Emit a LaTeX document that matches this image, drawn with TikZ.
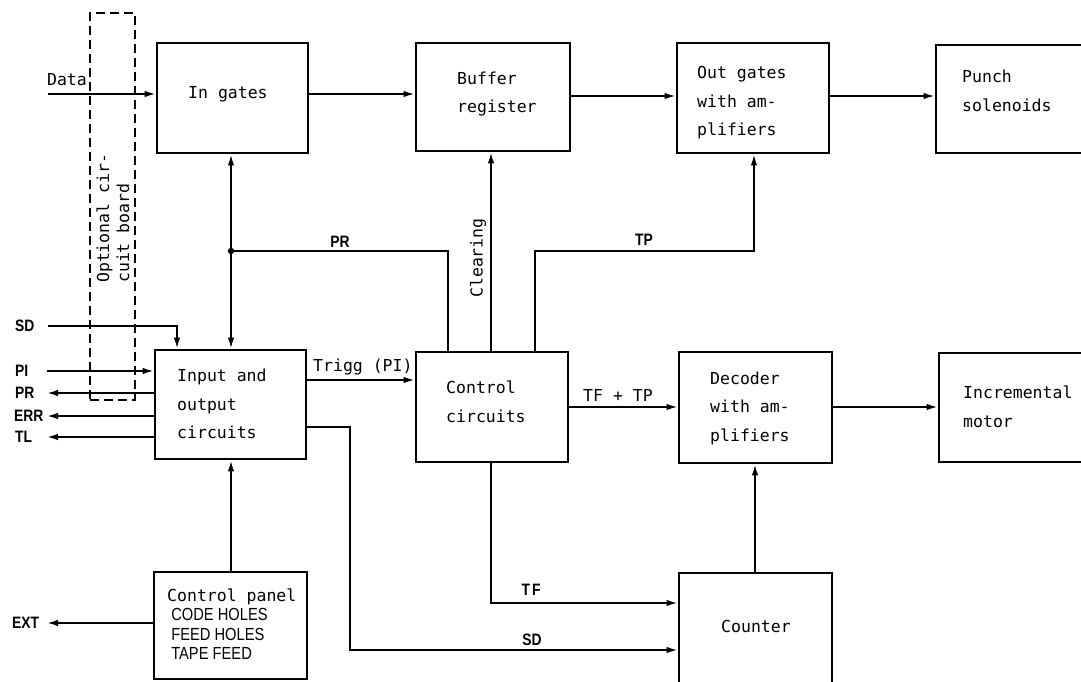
\documentclass[tikz,border=0pt]{standalone}
\usepackage{fontspec}
\setmonofont{DejaVu Sans Mono}
\newfontfamily\capsf[FakeStretch=0.84]{Liberation Sans}
\usetikzlibrary{arrows.meta}

\begin{document}
\begin{tikzpicture}[x=1pt,y=-1pt,
  box/.style={draw, line width=2.8pt, inner sep=0pt},
  board/.style={draw, line width=1.9pt, dash pattern=on 9pt off 5pt, inner sep=0pt},
  wire/.style={line width=1.8pt},
  txt/.style={font=\ttfamily\fontsize{16.5}{28.5}\selectfont, align=left, anchor=west, inner sep=0pt},
  tag/.style={font=\capsf\bfseries\fontsize{16.5}{20}\selectfont, inner sep=0pt},
  mtag/.style={font=\ttfamily\fontsize{16.5}{20}\selectfont, inner sep=0pt},
  >={Latex[length=11pt,width=6.5pt]}]

\useasboundingbox (0,0) rectangle (1081,681);
\fill[white] (0,0) rectangle (1081,681);
\clip (0,0) rectangle (1081,681);

% ---- blocks ----
\node[box, minimum width=151pt, minimum height=110pt] (ingates)  at (232.5,98)   {};
\node[box, minimum width=154pt, minimum height=108pt] (buffer)   at (493,97)     {};
\node[box, minimum width=152pt, minimum height=110pt] (outgates) at (753,98)     {};
\node[box, minimum width=164pt, minimum height=108pt] (punch)    at (1018,99)    {};
\node[box, minimum width=151pt, minimum height=109pt] (inout)    at (230.5,404.5){};
\node[box, minimum width=152pt, minimum height=110pt] (control)  at (492,407)    {};
\node[box, minimum width=153pt, minimum height=111pt] (decoder)  at (755.5,407.5){};
\node[box, minimum width=161pt, minimum height=109pt] (motor)    at (1019.5,407.5){};
\node[box, minimum width=153pt, minimum height=107pt] (panel)    at (230.5,625.5){};
\node[box, minimum width=153pt, minimum height=127pt] (counter)  at (755.5,636.5){};

% optional circuit board (dashed outline)
\node[board, minimum width=45pt, minimum height=387pt] (optboard) at (112.5,206.5) {};
\node[mtag, rotate=90, anchor=west, align=left] (optboard-t) at (113,283) {Optional cir-\\cuit board};

% ---- block texts ----
\node[txt] (ingates-t)  at (188,94)  {In gates};
\node[txt] (buffer-t)   at (457,94)  {Buffer\\register};
\node[txt] (outgates-t) at (697,103) {Out gates\\with am-\\plifiers};
\node[txt] (punch-t)    at (962,91)  {Punch\\solenoids};
\node[txt] (inout-t)    at (177,404) {Input and\\output\\circuits};
\node[txt] (control-t)  at (446,402) {Control\\circuits};
\node[txt] (decoder-t)  at (710,408) {Decoder\\with am-\\plifiers};
\node[txt] (motor-t)    at (963,407) {Incremental\\motor};
\node[txt] (counter-t)  at (721,626) {Counter};
\node[txt, font=\ttfamily\fontsize{16.5}{19.5}\selectfont] (panel-t) at (167,624)
  {Control panel\\{\capsf\fontsize{17.5}{19.5}\selectfont\ CODE HOLES}\\{\capsf\fontsize{17.5}{19.5}\selectfont\ FEED HOLES}\\{\capsf\fontsize{17.5}{19.5}\selectfont\ TAPE FEED}};

% ---- helper points ----
\coordinate (datain) at (48,94);
\coordinate (jdot)   at (231,251);
\coordinate (prc)    at (448,251);
\coordinate (clr)    at (491,0);
\coordinate (tpa)    at (535,251);
\coordinate (tpb)    at (754,251);
\coordinate (sdin)   at (48,326);
\coordinate (sdc)    at (177,326);
\coordinate (piin)   at (47,371);
\coordinate (prout)  at (47,393);
\coordinate (errout) at (47,416);
\coordinate (tlout)  at (47,437);
\coordinate (trg)    at (0,380);
\coordinate (tftp)   at (0,407);
\coordinate (cnt)    at (755,0);
\coordinate (tfc)    at (491,603);
\coordinate (sdo1)   at (350,427);
\coordinate (sdo2)   at (350,650);
\coordinate (extout) at (47,623);

% ---- connectors ----
\draw[wire,->] (datain) -- (datain -| ingates.west);
\draw[wire,->] (ingates.east |- datain) -- (buffer.west |- datain);
\draw[wire,->] (buffer.east |- 0,96) -- (outgates.west |- 0,96);
\draw[wire,->] (outgates.east |- 0,96) -- (punch.west |- 0,96);
\draw[wire,->] (decoder.east |- tftp) -- (motor.west |- tftp);

\draw[wire,<->] (ingates.south -| jdot) -- (inout.north -| jdot);
\fill (jdot) circle (3.2pt);
\draw[wire] (jdot) -- (prc) -- (prc |- control.north);
\draw[wire,->] (control.north -| clr) -- (buffer.south -| clr);
\draw[wire,->] (control.north -| tpa) -- (tpa) -- (tpb) -- (tpb |- outgates.south);

\draw[wire,->] (sdin) -- (sdc) -- (sdc |- inout.north);
\draw[wire,->] (piin) -- (piin -| inout.west);
\draw[wire,->] (prout -| inout.west) -- (prout);
\draw[wire,->] (errout -| inout.west) -- (errout);
\draw[wire,->] (tlout -| inout.west) -- (tlout);

\draw[wire,->] (inout.east |- trg) -- (control.west |- trg);
\draw[wire,->] (control.east |- tftp) -- (decoder.west |- tftp);
\draw[wire,->] (counter.north -| cnt) -- (decoder.south -| cnt);
\draw[wire,->] (control.south -| tfc) -- (tfc) -- (tfc -| counter.west);
\draw[wire,->] (inout.east |- sdo1) -- (sdo1) -- (sdo2) -- (sdo2 -| counter.west);
\draw[wire,->] (panel.north -| jdot) -- (inout.south -| jdot);
\draw[wire,->] (panel.west |- extout) -- (extout);

% ---- connector labels ----
\node[mtag] (data-l) at (67,80) {Data};
\node[tag, anchor=west] (sd-l)  at (15,326) {SD};
\node[tag, anchor=west] (pi-l)  at (15,371) {PI};
\node[tag, anchor=west] (pr-l)  at (15,393) {PR};
\node[tag, anchor=west] (err-l) at (14,416) {ERR};
\node[tag, anchor=west] (tl-l)  at (15,437) {TL};
\node[tag, anchor=west] (ext-l) at (12,623) {EXT};
\node[tag] (prl) at (340,242) {PR};
\node[tag] (tpl) at (644,240) {TP};
\node[mtag, rotate=90] (clr-l) at (478,258) {Clearing};
\node[mtag, anchor=west] (trg-l) at (313,367) {Trigg (PI)};
\node[mtag, anchor=west] (tftp-l) at (583,395) {TF + TP};
\node[tag] (tf-l) at (531,590) {T\kern2pt F};
\node[tag] (sd2-l) at (532,640) {SD};
\end{tikzpicture}
\end{document}
